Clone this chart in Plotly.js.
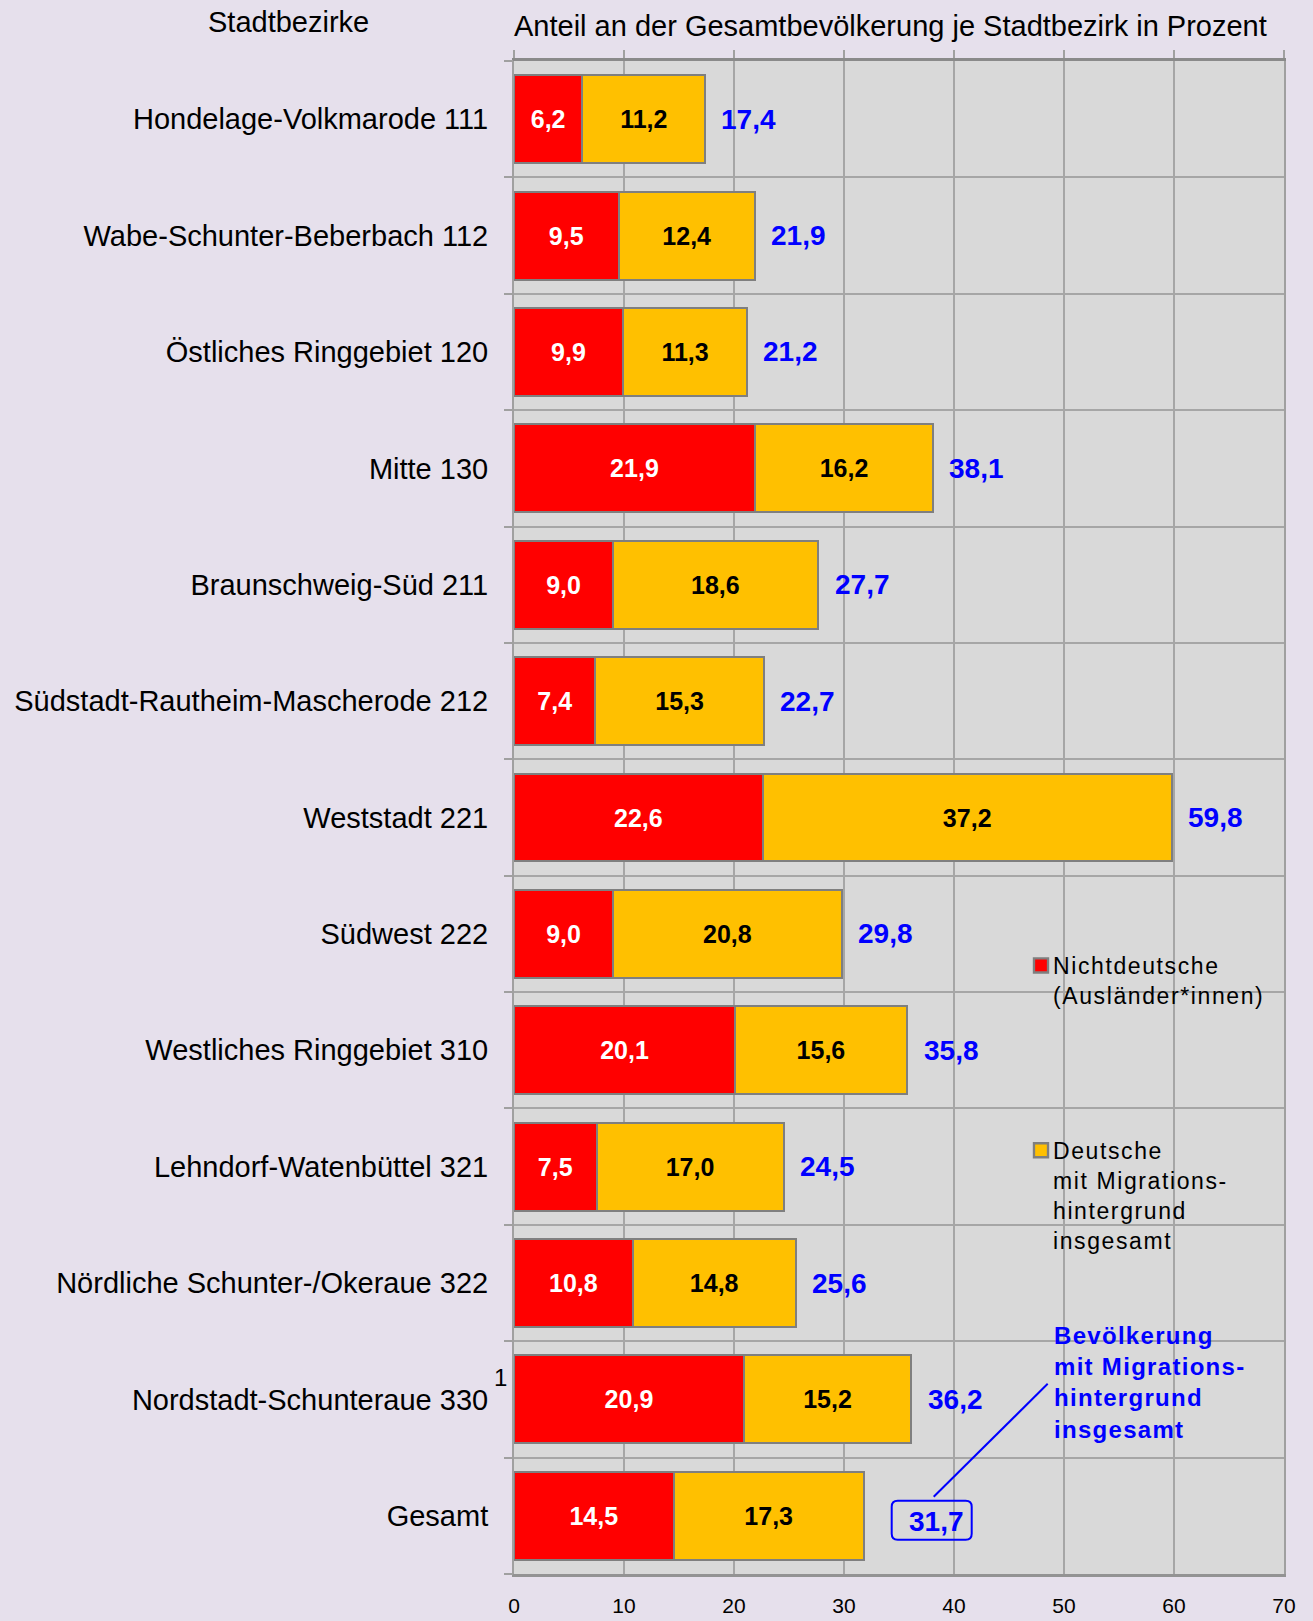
<!DOCTYPE html>
<html>
<head>
<meta charset="utf-8">
<script src="https://cdn.plot.ly/plotly-3.0.1.min.js"></script>
<style>
  html, body { margin: 0; padding: 0; background: #E6E0EC; }
  #chart { width: 1313px; height: 1621px; }
  .legendtext { letter-spacing: 1.6px; }
  #chart .legend .legendpoints { transform: translate(4.6px, 0px) scale(1.17); }
</style>
</head>
<body>
<div id="chart"></div>
<script>
// ---- Data ----
const categories = [
  "Hondelage-Volkmarode 111",
  "Wabe-Schunter-Beberbach 112",
  "Östliches Ringgebiet 120",
  "Mitte 130",
  "Braunschweig-Süd 211",
  "Südstadt-Rautheim-Mascherode 212",
  "Weststadt 221",
  "Südwest 222",
  "Westliches Ringgebiet 310",
  "Lehndorf-Watenbüttel 321",
  "Nördliche Schunter-/Okeraue 322",
  "Nordstadt-Schunteraue 330",
  "Gesamt"
];
const nichtdeutsche = [6.2, 9.5, 9.9, 21.9, 9.0, 7.4, 22.6, 9.0, 20.1, 7.5, 10.8, 20.9, 14.5];
const deutscheMitMigration = [11.2, 12.4, 11.3, 16.2, 18.6, 15.3, 37.2, 20.8, 15.6, 17.0, 14.8, 15.2, 17.3];
const insgesamt = [17.4, 21.9, 21.2, 38.1, 27.7, 22.7, 59.8, 29.8, 35.8, 24.5, 25.6, 36.2, 31.7];
const xTickValues = [0, 10, 20, 30, 40, 50, 60, 70];
const seriesNames = ["Nichtdeutsche<br>(Ausländer*innen)", "Deutsche<br>mit Migrations-<br>hintergrund<br>insgesamt"];
const headerLeft = "Stadtbezirke";
const headerRight = "Anteil an der Gesamtbevölkerung je Stadtbezirk in Prozent";
const calloutText = "Bevölkerung<br>mit Migrations-<br>hintergrund<br>insgesamt";
const footnoteMark = "1";
const footnoteCategory = "Nordstadt-Schunteraue 330";

// ---- Styling ----
const FONT = "Liberation Sans, Arial, Helvetica, sans-serif";
const RED = "#FF0000", YELLOW = "#FFC000", BLUE = "#0000FF";
const OUTLINE = "#7F7F7F", GRID = "#A6A6A6";
const n = categories.length;
const fmt = v => v.toFixed(1).replace(".", ",");

const traces = [
  {
    type: "bar", orientation: "h", name: seriesNames[0], legendgroup: "a",
    y: categories, x: nichtdeutsche,
    marker: { color: RED, line: { color: OUTLINE, width: 2 } },
    texttemplate: "%{x:.1f}", textposition: "inside", insidetextanchor: "middle",
    textangle: 0, constraintext: "none",
    insidetextfont: { family: FONT, size: 25, color: "#FFFFFF", weight: "bold" },
    hoverinfo: "skip"
  },
  {
    type: "bar", orientation: "h", name: seriesNames[1], legendgroup: "b",
    y: categories, x: deutscheMitMigration,
    marker: { color: YELLOW, line: { color: OUTLINE, width: 2 } },
    texttemplate: "%{x:.1f}", textposition: "inside", insidetextanchor: "middle",
    textangle: 0, constraintext: "none",
    insidetextfont: { family: FONT, size: 25, color: "#000000", weight: "bold" },
    hoverinfo: "skip"
  },
  // invisible helper trace so the overlay axes (row separators, top ticks) are drawn
  {
    type: "scatter", mode: "markers", xaxis: "x2", yaxis: "y2",
    x: [xTickValues[0]], y: [0], marker: { opacity: 0 },
    showlegend: false, hoverinfo: "skip"
  }
];

// boundaries between categories for the row separators / ticks
const boundaries = [];
for (let i = 0; i <= n; i++) boundaries.push(i - 0.5);

const annotations = [];
// totals
categories.forEach((c, i) => {
  const last = i === n - 1;
  annotations.push({
    x: insgesamt[i], y: c, xref: "x", yref: "y",
    text: fmt(insgesamt[i]), showarrow: false,
    xanchor: "left", yanchor: "middle",
    xshift: last ? 44 : 14, yshift: last ? -6 : 0,
    font: { family: FONT, size: 28, color: BLUE, weight: "bold" }
  });
});
// header left
annotations.push({
  xref: "paper", yref: "paper", x: 0, y: 1, xshift: -226, yshift: 39,
  xanchor: "center", yanchor: "middle", showarrow: false,
  text: headerLeft, font: { family: FONT, size: 29, color: "#000" }
});
// footnote mark
annotations.push({
  xref: "paper", yref: "y", x: 0, y: footnoteCategory, xshift: -22, yshift: 22,
  xanchor: "left", yanchor: "middle", showarrow: false,
  text: footnoteMark, font: { family: FONT, size: 24, color: "#000" }
});
// callout text
const calloutIndex = annotations.length;
annotations.push({
  xref: "paper", yref: "paper", x: (1052 - 514) / 770, y: 1 - (1320 - 61) / 1513,
  xanchor: "left", yanchor: "top", align: "left", showarrow: false,
  text: calloutText, font: { family: FONT, size: 24, color: BLUE, weight: "bold" }
});
const st = document.createElement("style");
st.textContent = '#chart .annotation[data-index="' + calloutIndex + '"] .annotation-text { letter-spacing: 1.3px; }';
document.head.appendChild(st);

const gIdx = n - 1;
const shapes = [
  // rounded box around total "Gesamt"
  {
    type: "path", xref: "x", yref: "y", xsizemode: "pixel", ysizemode: "pixel",
    xanchor: insgesamt[gIdx], yanchor: categories[gIdx],
    path: "M35,15 H103 Q109,15 109,9 V-18 Q109,-24 103,-24 H35 Q29,-24 29,-18 V9 Q29,15 35,15 Z",
    line: { color: BLUE, width: 2 }, fillcolor: "rgba(0,0,0,0)"
  },
  // connector line
  {
    type: "line", xref: "x", yref: "y", xsizemode: "pixel", ysizemode: "pixel",
    xanchor: insgesamt[gIdx], yanchor: categories[gIdx],
    x0: 71, y0: 19, x1: 185, y1: 132,
    line: { color: BLUE, width: 2 }
  }
];

const layout = {
  width: 1313, height: 1621,
  paper_bgcolor: "#E6E0EC", plot_bgcolor: "#D9D9D9",
  margin: { l: 514, r: 29, t: 61, b: 47, pad: 0 },
  separators: ",.",
  barmode: "stack", bargap: 0.245,
  font: { family: FONT, color: "#000" },
  title: {
    text: headerRight, xref: "paper", x: 0, xanchor: "left",
    yref: "container", y: 1 - 26 / 1621, yanchor: "middle",
    font: { family: FONT, size: 29, color: "#000" }
  },
  xaxis: {
    range: [0, 70], tickmode: "array", tickvals: xTickValues,
    showgrid: true, gridcolor: GRID, gridwidth: 2,
    showline: true, linecolor: "#939393", linewidth: 3,
    zeroline: false, ticks: "", ticklabelstandoff: 11,
    tickfont: { family: FONT, size: 21, color: "#000" },
    fixedrange: true
  },
  xaxis2: {
    overlaying: "x", side: "top", anchor: "y",
    range: [0, 70], tickmode: "array", tickvals: xTickValues,
    showgrid: false, showticklabels: false, zeroline: false,
    showline: true, linecolor: "#8A8A8A", linewidth: 3,
    ticks: "outside", ticklen: 8, tickwidth: 2, tickcolor: "#A0A0A0",
    fixedrange: true
  },
  yaxis: {
    type: "category", range: [n - 0.5, -0.5],
    showgrid: false, zeroline: false,
    showline: true, mirror: true, linecolor: "#A0A0A0", linewidth: 2,
    ticks: "", ticklabelstandoff: 18,
    tickfont: { family: FONT, size: 29, color: "#000" },
    fixedrange: true
  },
  yaxis2: {
    overlaying: "y", side: "left", anchor: "x", type: "linear",
    range: [n - 0.5, -0.5], tickmode: "array", tickvals: boundaries,
    showticklabels: false, zeroline: false, showline: false,
    showgrid: true, gridcolor: GRID, gridwidth: 2,
    ticks: "outside", ticklen: 9, tickwidth: 2, tickcolor: "#A0A0A0",
    fixedrange: true
  },
  showlegend: true,
  legend: {
    x: (1013 - 514) / 770, xanchor: "left",
    y: 1 - (944 - 61) / 1513, yanchor: "top",
    bgcolor: "rgba(0,0,0,0)", borderwidth: 0,
    traceorder: "grouped", tracegroupgap: 122, valign: "top",
    itemwidth: 30,
    font: { family: FONT, size: 23, color: "#000" }
  },
  annotations: annotations,
  shapes: shapes
};

Plotly.newPlot("chart", traces, layout, { displayModeBar: false, staticPlot: true });
</script>
</body>
</html>
